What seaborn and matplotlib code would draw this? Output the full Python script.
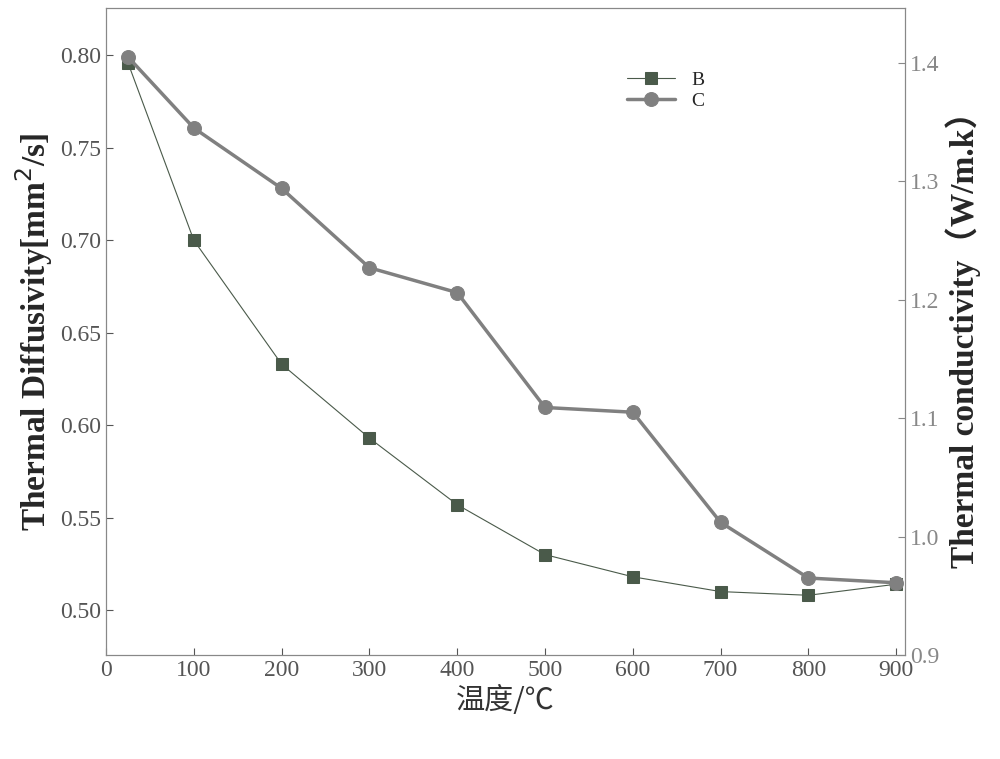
import matplotlib
matplotlib.use("Agg")
import matplotlib.pyplot as plt
import seaborn as sns
import pandas as pd

sns.set_style("ticks")
plt.rcParams['font.family'] = ['Liberation Serif', 'Noto Sans CJK SC', 'DejaVu Sans']

temps = [25, 100, 200, 300, 400, 500, 600, 700, 800, 900]
diffusivity_B = [0.796, 0.700, 0.633, 0.593, 0.557, 0.530, 0.518, 0.510, 0.508, 0.514]
conductivity_C = [1.405, 1.345, 1.294, 1.227, 1.206, 1.109, 1.105, 1.012, 0.965, 0.961]

dfB = pd.DataFrame({"T": temps, "v": diffusivity_B})
dfC = pd.DataFrame({"T": temps, "v": conductivity_C})

fig = plt.figure(figsize=(10, 7.59), dpi=100)
ax = fig.add_axes([0.106, 0.137, 0.799, 0.852])
ax2 = ax.twinx()

sns.lineplot(data=dfB, x="T", y="v", ax=ax, color="#4a5a4a", lw=0.8, marker="s",
             markersize=9, markeredgecolor="#4a5a4a", label="B", legend=False)
sns.lineplot(data=dfC, x="T", y="v", ax=ax2, color="#808080", lw=2.5, marker="o",
             markersize=10, markeredgecolor="#808080", label="C", legend=False)

ax.set_xlim(0, 910)
ax.set_ylim(0.4757, 0.8254)
ax2.set_ylim(0.9017, 1.446)
ax.set_xticks(range(0, 901, 100))
ax.set_yticks([0.50, 0.55, 0.60, 0.65, 0.70, 0.75, 0.80])
ax.set_yticklabels([f"{v:.2f}" for v in ax.get_yticks()])
ax2.set_yticks([0.9, 1.0, 1.1, 1.2, 1.3, 1.4])
ax2.set_yticklabels([f"{v:.1f}" for v in ax2.get_yticks()])

gray = "#888888"
for a in (ax, ax2):
    for s in a.spines.values():
        s.set_color(gray)
    a.tick_params(direction="in", colors="#555555", labelsize=17, length=5)
ax2.tick_params(axis="y", colors=gray, labelsize=17)

ax.set_xlabel("温度/℃", fontsize=21, family=['Noto Sans CJK SC'], color="#333333")
ax.set_ylabel("Thermal Diffusivity[mm$^2$/s]", fontsize=24, fontweight="bold")
ax2.set_ylabel("Thermal conductivity（W/m.k）", fontsize=24, fontweight="bold",
               family=['Liberation Serif', 'Noto Sans CJK SC'])

h1, l1 = ax.get_legend_handles_labels()
h2, l2 = ax2.get_legend_handles_labels()
ax.legend(h1 + h2, l1 + l2, loc="upper left", bbox_to_anchor=(0.63, 0.93),
          frameon=False, fontsize=14, handlelength=2.5, labelspacing=0.2)

fig.savefig("out.png", dpi=100)
